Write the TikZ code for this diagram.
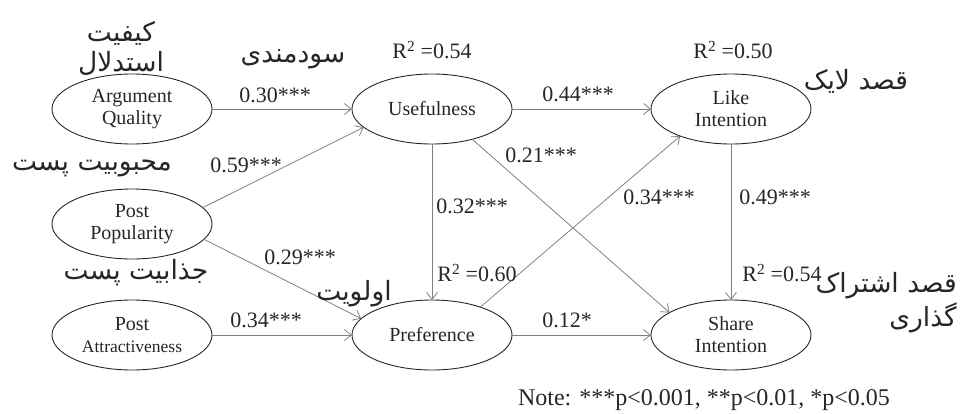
\documentclass[tikz,border=0pt]{standalone}
\usepackage{fontspec}
\setmainfont{Liberation Serif}
\newfontfamily\farsifont[Script=Arabic]{DejaVu Sans}
\TeXXeTstate=1
\usetikzlibrary{shapes.geometric,arrows.meta}
\newcommand{\fatext}[1]{\beginR #1\endR}
\newcommand{\rsq}[1]{R\textsuperscript{2} =#1}

\begin{document}
\begin{tikzpicture}[x=1pt,y=-1pt,
  every node/.style={text=black!85},
  construct/.style={draw=black!85,line width=0.9pt,ellipse,minimum width=160pt,minimum height=70pt,
    inner sep=0pt,outer sep=0pt,align=center,font=\fontsize{20}{22}\selectfont},
  link/.style={draw=black!50,line width=0.8pt,-{Straight Barb[length=7pt,width=11pt]}},
  coef/.style={font=\fontsize{22}{24}\selectfont,inner sep=1pt},
  farsi/.style={font=\farsifont\fontsize{26.5}{30}\selectfont,inner sep=0pt}]
 \useasboundingbox (0,0) rectangle (962,413);

 % constructs
 \node[construct] (aq) at (132,109) {Argument\\Quality};
 \node[construct] (pp) at (132,224) {Post\\Popularity};
 \node[construct] (pa) at (132,335) {Post\\{\fontsize{17.5}{22}\selectfont Attractiveness}};
 \node[construct] (use) at (432,109) {Usefulness};
 \node[construct] (like) at (731,109) {Like\\Intention};
 \node[construct] (pref) at (432,335) {Preference};
 \node[construct] (share) at (731,335) {Share\\Intention};

 % paths
 \draw[link] (aq) -- (use);
 \draw[link] (pp.13) -- (use.195);
 \draw[link] (pp.-12) -- (pref.167);
 \draw[link] (pa) -- (pref);
 \draw[link] (use) -- (like);
 \draw[link] (use) -- (pref);
 \draw[link] (use.-37) -- (share.160);
 \draw[link] (pref.30) -- (like.208);
 \draw[link] (like) -- (share);
 \draw[link] (pref) -- (share);

 % coefficients
 \node[coef] (caq) at (275,95) {0.30***};
 \node[coef] (cpp1) at (246,165) {0.59***};
 \node[coef] (cpp2) at (300,257) {0.29***};
 \node[coef] (cpa) at (266,320) {0.34***};
 \node[coef] (cuse1) at (578,94) {0.44***};
 \node[coef] (cuse2) at (541,155) {0.21***};
 \node[coef] (cuse3) at (472,206) {0.32***};
 \node[coef] (cpref1) at (659,197) {0.34***};
 \node[coef] (clike) at (775,197) {0.49***};
 \node[coef] (cpref2) at (567,320) {0.12*};

 % explained variance
 \node[coef] (ruse) at (432,50) {\rsq{0.54}};
 \node[coef] (rlike) at (733,50) {\rsq{0.50}};
 \node[coef] (rpref) at (477,273) {\rsq{0.60}};
 \node[coef] (rshare) at (782,273) {\rsq{0.54}};

 % persian labels
 \node[farsi,align=center] (faaq) at (121,48) {\fatext{کیفیت}\\\fatext{استدلال}};
 \node[farsi] (fause) at (293,59) {\fatext{سودمندی}};
 \node[farsi] (fapp) at (92,168) {\fatext{محبوبیت پست}};
 \node[farsi] (fapa) at (136,273) {\fatext{جذابیت پست}};
 \node[farsi] (fapref) at (354,294) {\fatext{اولویت}};
 \node[farsi] (falike) at (856,81) {\fatext{قصد لایک}};
 \node[farsi,align=right,anchor=east,font=\farsifont\fontsize{26.5}{34}\selectfont] (fashare) at (957,303) {\fatext{قصد اشتراک}\\\fatext{گذاری}};

 \node[coef,font=\fontsize{24}{26}\selectfont] (note) at (704,400) {Note: ***p<0.001, **p<0.01, *p<0.05};
\end{tikzpicture}
\end{document}
